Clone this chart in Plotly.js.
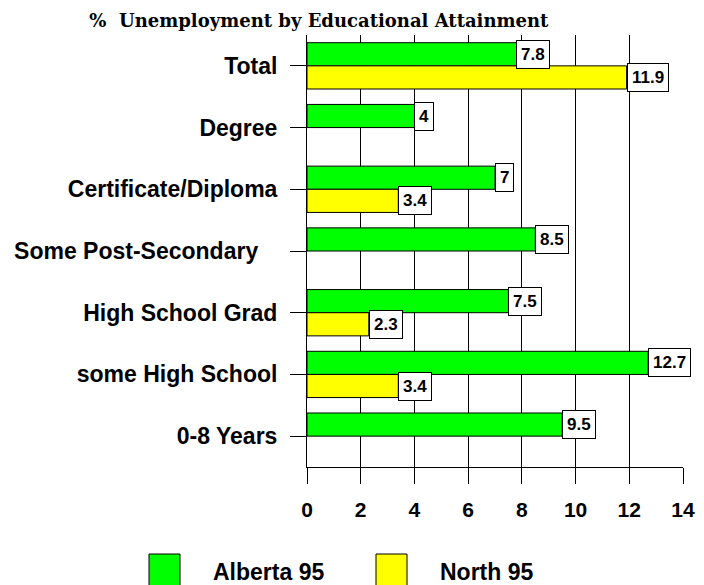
<!DOCTYPE html>
<html>
<head>
<meta charset="utf-8">
<script src="https://cdn.plot.ly/plotly-3.0.1.min.js"></script>
<style>
  html, body { margin: 0; padding: 0; background: #fff; }
  #chart { width: 704px; height: 585px; }
</style>
</head>
<body>
<div id="chart"></div>
<script>
// categories, top to bottom
const categories = ["Total", "Degree", "Certificate/Diploma", "Some Post-Secondary\u00a0\u00a0\u00a0",
                    "High School Grad", "some High School", "0-8 Years"];
const seriesNames = ["Alberta 95", "North 95"];
const alberta95 = [7.8, 4, 7, 8.5, 7.5, 12.7, 9.5];
const north95   = [11.9, null, 3.4, null, 2.3, 3.4, null];
const xTicks    = [0, 2, 4, 6, 8, 10, 12, 14];

const GREEN = "#00FF00";
const YELLOW = "#FFFF00";
const BAR_GAP = 0.25;
const W = 704, H = 585;
const M = { l: 307, r: 21, t: 35, b: 118 };
const FONT = "Liberation Sans, Arial, sans-serif";

// pixel -> paper helpers (for the hand-drawn legend)
const pw = W - M.l - M.r, ph = H - M.t - M.b;
const px = x => (x - M.l) / pw;
const py = y => (H - M.b - y) / ph;

const traces = [alberta95, north95].map((vals, i) => ({
  type: "bar", orientation: "h",
  name: seriesNames[i],
  y: categories, x: vals,
  marker: { color: i === 0 ? GREEN : YELLOW, line: { color: "#000", width: 1 } },
  hoverinfo: "x+name",
  showlegend: false,
}));

// value boxes at the end of each bar
const half = (1 - BAR_GAP) / 4;
const annotations = [];
[alberta95, north95].forEach((vals, s) => {
  vals.forEach((v, i) => {
    if (v === null) return;
    annotations.push({
      x: v, y: i + (s === 0 ? -half : half), xref: "x", yref: "y",
      text: String(v), showarrow: false, xanchor: "left", yanchor: "middle",
      bgcolor: "#fff", bordercolor: "#000", borderwidth: 1, borderpad: 4,
      font: { family: FONT, size: 17, color: "#000", weight: "bold" },
    });
  });
});

// legend drawn below the plot
const legendItems = [
  { color: GREEN,  box: 149, text: 211 },
  { color: YELLOW, box: 376, text: 438 },
];
const shapes = [];
legendItems.forEach((it, i) => {
  shapes.push({
    type: "rect", xref: "paper", yref: "paper",
    x0: px(it.box), x1: px(it.box + 31), y0: py(586), y1: py(554),
    fillcolor: it.color, line: { color: "#000", width: 1 },
  });
  annotations.push({
    xref: "paper", yref: "paper", x: px(it.text), y: py(572),
    xanchor: "left", yanchor: "middle", showarrow: false,
    text: seriesNames[i],
    font: { family: FONT, size: 23, color: "#000", weight: "bold" },
  });
});

const layout = {
  width: W, height: H,
  margin: M,
  paper_bgcolor: "#fff", plot_bgcolor: "#fff",
  showlegend: false,
  barmode: "group", bargap: BAR_GAP, bargroupgap: 0,
  title: {
    text: "%  Unemployment by Educational Attainment",
    x: 0.453, xanchor: "center", y: 0.965, yanchor: "middle",
    font: { family: "DejaVu Serif, serif", size: 18, color: "#000", weight: "bold" },
  },
  xaxis: {
    range: [0, 14], tickvals: xTicks, ticktext: xTicks.map(String),
    showgrid: true, gridcolor: "#000", gridwidth: 1,
    zeroline: false, showline: true, linecolor: "#000", linewidth: 1,
    ticks: "outside", ticklen: 16, tickcolor: "#000", ticklabelstandoff: 8,
    tickfont: { family: FONT, size: 21, color: "#000", weight: "bold" },
    fixedrange: true,
  },
  yaxis: {
    type: "category", autorange: "reversed",
    showgrid: false, zeroline: false,
    showline: true, linecolor: "#000", linewidth: 1,
    ticks: "outside", ticklen: 16, tickcolor: "#000", ticklabelstandoff: 8,
    tickfont: { family: FONT, size: 23, color: "#000", weight: "bold" },
    fixedrange: true,
  },
  annotations, shapes,
};

Plotly.newPlot("chart", traces, layout, { displayModeBar: false, staticPlot: true });
</script>
</body>
</html>
